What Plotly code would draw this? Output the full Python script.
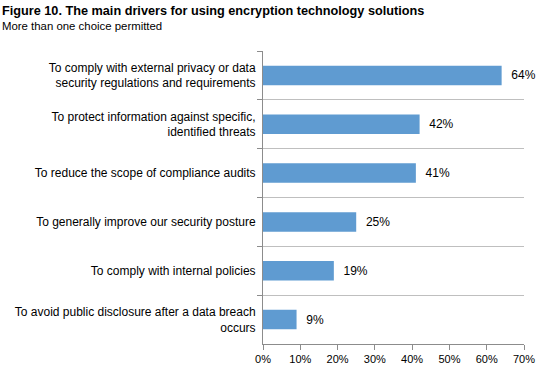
import plotly.graph_objects as go

categories = [
    "To comply with external privacy or data<br>security regulations and requirements",
    "To protect information against specific,<br>identified threats",
    "To reduce the scope of compliance audits",
    "To generally improve our security posture",
    "To comply with internal policies",
    "To avoid public disclosure after a data breach<br>occurs",
]
values = [64, 42, 41, 25, 19, 9]
x_tick_values = [0, 10, 20, 30, 40, 50, 60, 70]
x_tick_labels = ["0%", "10%", "20%", "30%", "40%", "50%", "60%", "70%"]

title_text = "Figure 10. The main drivers for using encryption technology solutions"
subtitle_text = "More than one choice permitted"

FONT = "Liberation Sans, Arial, sans-serif"

fig = go.Figure(
    go.Bar(
        x=values,
        y=categories,
        orientation="h",
        width=0.4,
        marker=dict(color="#5f9bd1", line=dict(width=0)),
        text=["\u00a0\u00a0" + f"{v}%" for v in values],
        textposition="outside",
        textfont=dict(family=FONT, size=12, color="#000000"),
        cliponaxis=False,
        hoverinfo="skip",
    )
)

fig.update_layout(
    width=547,
    height=377,
    margin=dict(l=263, r=20, t=51, b=30),
    paper_bgcolor="white",
    plot_bgcolor="white",
    showlegend=False,
    font=dict(family=FONT, color="#000000"),
    title=dict(
        text="<b>" + title_text + "</b>",
        xref="container",
        yref="container",
        x=2 / 547,
        xanchor="left",
        y=1 - 11 / 377,
        yanchor="middle",
        font=dict(family=FONT, size=12.7, color="#000000"),
    ),
    annotations=[
        dict(
            text=subtitle_text,
            xref="paper",
            yref="paper",
            x=(-2 - 263) / 264,
            xanchor="left",
            y=(347 - 26) / 296,
            yanchor="middle",
            showarrow=False,
            borderpad=0,
            font=dict(family=FONT, size=11.4, color="#000000"),
        )
    ],
    xaxis=dict(
        range=[0, 70],
        tickvals=x_tick_values,
        ticktext=x_tick_labels,
        showgrid=False,
        zeroline=False,
        showline=True,
        linecolor="#8c8c8c",
        linewidth=1,
        ticks="outside",
        ticklen=5,
        tickcolor="#8c8c8c",
        tickfont=dict(family=FONT, size=11, color="#000000"),
        fixedrange=True,
    ),
    yaxis=dict(
        autorange="reversed",
        showgrid=True,
        gridcolor="#bfbfbf",
        gridwidth=1,
        tickson="boundaries",
        ticks="outside",
        ticklen=5,
        tickcolor="#8c8c8c",
        showline=True,
        linecolor="#8c8c8c",
        linewidth=1,
        ticklabelstandoff=4,
        tickfont=dict(family=FONT, size=12, color="#000000"),
        fixedrange=True,
    ),
)

fig.write_html(
    "out.html",
    config={"displayModeBar": False},
    post_script="document.body.style.margin='0';document.body.style.padding='0';",
)
